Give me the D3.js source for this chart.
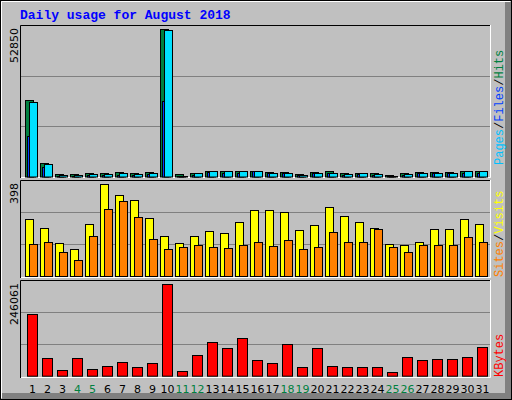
<!DOCTYPE html>
<html><head><meta charset="utf-8">
<script src="https://cdn.jsdelivr.net/npm/d3@7"></script>
<style>body{margin:0;background:#fff}svg{display:block}</style>
</head><body><svg id="c" width="512" height="400"></svg>
<script>
const days = d3.range(1, 32);
const weekend = [4,5,11,12,18,19,25,26];
const hits  = [27500,5000,900,900,1300,1300,1600,1300,1600,52850,900,1300,2000,2000,2000,2000,1600,1600,900,1600,2000,1300,1300,1300,550,1300,1600,1600,1600,2000,2000];
const files = [26600,4400,700,700,900,900,1100,900,1300,52500,350,1100,1800,1800,1800,1800,1300,1300,700,1400,1400,900,1100,900,350,900,1400,1400,1400,1800,1800];
const pages = [14400,3400,350,350,550,550,700,550,900,27000,180,700,1600,1400,1400,1800,1100,1100,550,1100,1300,700,900,700,350,700,1100,1100,1100,1400,1400];
const visits= [245,207,141,116,224,398,350,328,250,172,141,172,194,185,233,285,285,276,198,220,298,259,233,207,137,133,146,202,202,245,224];
const sites = [137,146,103,68,172,289,324,254,159,116,124,133,124,120,133,146,129,155,116,124,189,146,146,202,124,103,133,133,133,168,146];
const kbytes= [165300,46700,14400,46700,17000,25100,35900,22400,33200,246061,11600,54700,89800,73600,100500,41300,33200,84400,22400,73600,25100,22400,22400,22400,8900,49300,41300,44000,44000,49300,76300];
const maxLabels = ["52850","398","246061"];

const svg = d3.select("#c");
svg.append("rect").attr("width",512).attr("height",400).attr("fill","#c0c0c0");
svg.append("rect").attr("x",505).attr("y",2).attr("width",6).attr("height",397).attr("fill","#808080");
svg.append("rect").attr("x",2).attr("y",393).attr("width",509).attr("height",6).attr("fill","#808080");
svg.append("rect").attr("x",0.5).attr("y",0.5).attr("width",511).attr("height",399).attr("fill","none").attr("stroke","#000");
svg.append("path").attr("d","M1.5,398V1.5H510").attr("stroke","#fff").attr("fill","none");

svg.append("text").attr("x",20).attr("y",19).text("Daily usage for August 2018")
  .attr("font-family","Liberation Mono").attr("font-weight","bold").attr("font-size",13).attr("fill","#0000ff");

const x = d3.scaleBand().domain(days).range([25,490]).paddingInner(0);
const panels = [
  {top:25, bot:178, base:176.5, max:52850, h:147.3},
  {top:180, bot:278, base:276, max:398, h:92},
  {top:280, bot:378, base:375.7, max:246061, h:91.4}
];
panels.forEach((p,i)=>{
  svg.append("rect").attr("x",20).attr("y",p.top).attr("width",471).attr("height",p.bot-p.top).attr("fill","#c0c0c0");
  const y = d3.scaleLinear().domain([0,p.max]).range([p.base,p.base-p.h]);
  [1/3,2/3].forEach(f=>{
    const gy = Math.round(p.base-(p.h+4)*f)+0.5;
    svg.append("line").attr("x1",21).attr("x2",490).attr("y1",gy).attr("y2",gy).attr("stroke","#808080");
  });
  p.y=y;
  svg.append("path").attr("d",`M20.5,${p.bot}V${p.top+0.5}H490`).attr("stroke","#000").attr("fill","none");
  svg.append("path").attr("d",`M21,${p.bot-0.5}H490.5V${p.top}`).attr("stroke","#fff").attr("fill","none");
  svg.append("text").attr("transform",`translate(18,${p.top+3}) rotate(-90)`).attr("text-anchor","end")
    .attr("font-family","DejaVu Sans").attr("font-size",11).attr("fill","#000").text(maxLabels[i]);
});

function bars(data, y, dx, w, color){
  svg.append("g").selectAll("rect").data(data).join("rect")
    .attr("x",(d,i)=>x(days[i])+dx+0.5).attr("width",w)
    .attr("y",d=>Math.round(y(d))+0.5).attr("height",d=>Math.max(0,y(0)-Math.round(y(d))))
    .attr("fill",color).attr("stroke","#000");
}
bars(hits, panels[0].y, 0, 8, "#008040");
bars(pages, panels[0].y, 2, 8, "#0040ff");
bars(files, panels[0].y, 4, 8, "#00e0ff");
bars(visits, panels[1].y, 0, 8, "#ffff00");
bars(sites, panels[1].y, 4, 8, "#ff8000");
bars(kbytes, panels[2].y, 2, 10, "#ff0000");

svg.append("g").selectAll("text").data(days).join("text")
  .attr("x",d=>x(d)+7.5).attr("y",393).attr("text-anchor","middle")
  .attr("font-family","DejaVu Sans").attr("font-size",11)
  .attr("fill",d=>weekend.includes(d)?"#008040":"#000").text(d=>d);

function vlabel(parts, yEnd){
  const t = svg.append("text").attr("transform",`translate(503,${yEnd}) rotate(-90)`)
    .attr("font-family","Liberation Mono").attr("font-size",12);
  parts.forEach(([s,c])=>t.append("tspan").attr("fill",c).text(s));
}
vlabel([["Pages","#00c0ff"],["/","#000"],["Files","#0040ff"],["/","#000"],["Hits","#008040"]],165);
vlabel([["Sites","#ff8000"],["/","#000"],["Visits","#ffff00"]],277);
vlabel([["KBytes","#ff0000"]],377);
</script></body></html>
